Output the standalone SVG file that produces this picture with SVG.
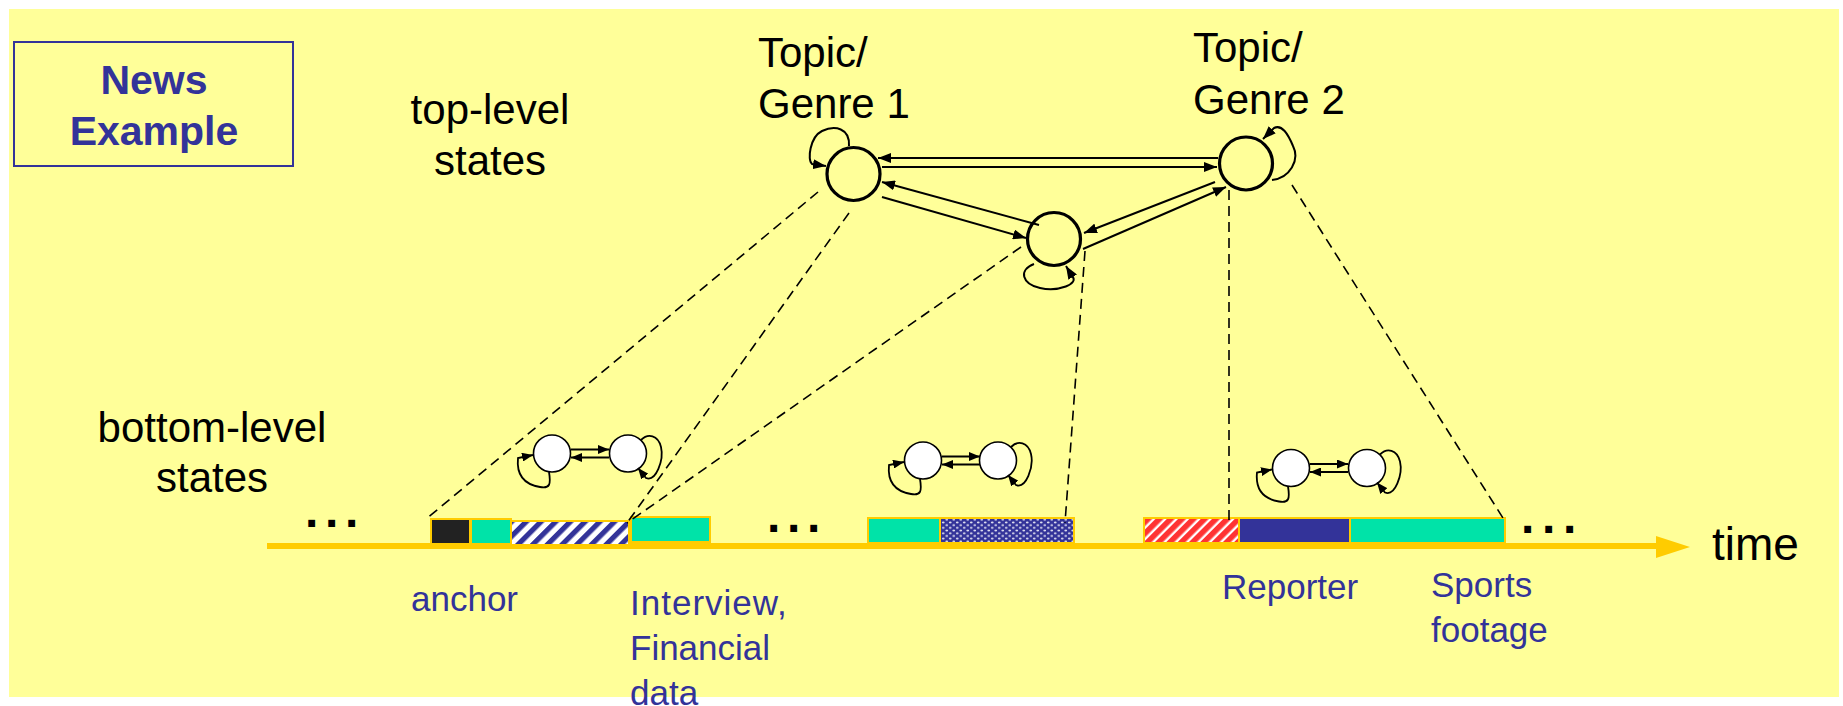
<svg xmlns="http://www.w3.org/2000/svg" width="1843" height="706" viewBox="0 0 1843 706">
  <style>
    .lbl { font-family: "Liberation Sans", Arial, sans-serif; font-size: 42px; fill: #000; }
    .seg-lbl { font-family: "Liberation Sans", Arial, sans-serif; font-size: 35px; fill: #333399; }
    .title { font-family: "Liberation Sans", Arial, sans-serif; font-size: 41px; font-weight: bold; fill: #333399; }
    .dots { font-family: "Liberation Sans", Arial, sans-serif; font-size: 48px; font-weight: bold; fill: #000; }
    .big { fill: none; stroke: #000; stroke-width: 3.2; }
    .small { fill: #fff; stroke: #000; stroke-width: 1.6; }
    .arr { fill: none; stroke: #000; stroke-width: 2; marker-end: url(#ah); }
    .arr-s { fill: none; stroke: #000; stroke-width: 1.8; marker-end: url(#ahs); }
    .dash { fill: none; stroke: #000; stroke-width: 1.6; stroke-dasharray: 10 6; }
    .seg { stroke: #FFCC00; stroke-width: 2; }
    .green { fill: #00E3A8; }
  </style>
  <defs>
    <marker id="ah" markerUnits="userSpaceOnUse" markerWidth="13" markerHeight="10" refX="13" refY="5" orient="auto">
      <path d="M0,0 L13,5 L0,10 z" fill="#000"/>
    </marker>
    <marker id="ahs" markerUnits="userSpaceOnUse" markerWidth="11" markerHeight="9" refX="11" refY="4.5" orient="auto">
      <path d="M0,0 L11,4.5 L0,9 z" fill="#000"/>
    </marker>
    <pattern id="navyStripes" patternUnits="userSpaceOnUse" width="10.4" height="10.4" patternTransform="rotate(45)">
      <rect width="10.4" height="10.4" fill="#fff"/>
      <rect width="5.2" height="10.4" fill="#333399"/>
    </pattern>
    <pattern id="redStripes" patternUnits="userSpaceOnUse" width="8" height="8" patternTransform="rotate(45)">
      <rect width="8" height="8" fill="#fff"/>
      <rect width="5.6" height="8" fill="#FF3333"/>
    </pattern>
    <pattern id="navyDots" patternUnits="userSpaceOnUse" width="7" height="5.4">
      <rect width="7" height="5.4" fill="#333399"/>
      <ellipse cx="1.75" cy="1.35" rx="1.4" ry="0.9" fill="#fff" opacity="0.85"/>
      <ellipse cx="5.25" cy="4.05" rx="1.4" ry="0.9" fill="#fff" opacity="0.85"/>
    </pattern>
  </defs>

  <!-- page background -->
  <rect x="9" y="9" width="1830" height="688" fill="#FFFF99"/>

  <!-- title box -->
  <g id="title-box">
    <rect x="14" y="42" width="279" height="124" fill="none" stroke="#333399" stroke-width="2"/>
    <text class="title" x="154" y="94" text-anchor="middle">News</text>
    <text class="title" x="154" y="145" text-anchor="middle">Example</text>
  </g>

  <!-- level captions -->
  <g id="caption-top">
    <text class="lbl" x="490" y="124" text-anchor="middle">top-level</text>
    <text class="lbl" x="490" y="175" text-anchor="middle">states</text>
  </g>
  <g id="caption-bottom">
    <text class="lbl" x="212" y="442" text-anchor="middle">bottom-level</text>
    <text class="lbl" x="212" y="492" text-anchor="middle">states</text>
  </g>

  <!-- time axis -->
  <g id="time-axis">
    <line x1="267" y1="546" x2="1662" y2="546" stroke="#FFCC00" stroke-width="6"/>
    <polygon points="1656,536 1690,547 1656,558" fill="#FFCC00"/>
    <text class="lbl" x="1712" y="560" style="font-size:46px">time</text>
    <text class="dots" x="305" y="527" letter-spacing="6.7">...</text>
    <text class="dots" x="767" y="532" letter-spacing="6.7">...</text>
    <text class="dots" x="1521" y="533" letter-spacing="7.7">...</text>
  </g>

  <!-- video segments on the time axis -->
  <g id="segments">
    <rect class="seg" x="431" y="519" width="39" height="25" fill="#222"/>
    <rect class="seg green" x="471" y="519" width="40" height="25"/>
    <rect class="seg" x="511" y="521" width="118" height="24" fill="url(#navyStripes)"/>
    <rect class="seg green" x="631" y="517" width="79" height="25"/>
    <rect class="seg green" x="868" y="518" width="72" height="25"/>
    <rect class="seg" x="940" y="518" width="134" height="25" fill="url(#navyDots)"/>
    <rect class="seg" x="1144" y="518" width="95" height="25" fill="url(#redStripes)"/>
    <rect class="seg" x="1239" y="518" width="111" height="25" fill="#333399"/>
    <rect class="seg green" x="1350" y="518" width="155" height="25"/>
  </g>

  <!-- segment labels -->
  <g id="segment-labels">
    <text class="seg-lbl" x="411" y="611">anchor</text>
    <text class="seg-lbl" x="630" y="615" letter-spacing="1">Interview,</text>
    <text class="seg-lbl" x="630" y="660">Financial</text>
    <text class="seg-lbl" x="630" y="705">data</text>
    <text class="seg-lbl" x="1222" y="599">Reporter</text>
    <text class="seg-lbl" x="1431" y="597">Sports</text>
    <text class="seg-lbl" x="1431" y="642">footage</text>
  </g>

  <!-- top-level states -->
  <g id="topic1">
    <circle class="big" cx="853.5" cy="174" r="26.5"/>
    <text class="lbl" x="758" y="67">Topic/</text>
    <text class="lbl" x="758" y="118">Genre 1</text>
  </g>
  <g id="topic2">
    <circle class="big" cx="1246" cy="163.5" r="26.5"/>
    <text class="lbl" x="1193" y="62">Topic/</text>
    <text class="lbl" x="1193" y="114">Genre 2</text>
  </g>
  <g id="topic-mid">
    <circle class="big" cx="1054" cy="239" r="26.5"/>
  </g>

  <!-- bottom-level state pairs -->
  <g id="sub1">
    <circle class="small" cx="552" cy="453.5" r="18.5"/>
    <circle class="small" cx="628" cy="453.5" r="18.5"/>
  </g>
  <g id="sub2">
    <circle class="small" cx="923" cy="460.5" r="18.5"/>
    <circle class="small" cx="998" cy="460.5" r="18.5"/>
  </g>
  <g id="sub3">
    <circle class="small" cx="1291" cy="468" r="18.5"/>
    <circle class="small" cx="1367" cy="468" r="18.5"/>
  </g>

  <g id="connectors">
    <!-- transitions between top-level states -->
    <path class="arr" d="M1218,158 L878,158"/>
    <path class="arr" d="M882,167 L1217,167"/>
    <path class="arr" d="M1039,225 L882,182"/>
    <path class="arr" d="M882,197 L1026,238"/>
    <path class="arr" d="M1215,182 L1084,233"/>
    <path class="arr" d="M1083,249 L1226,187"/>
    <!-- top-level self transitions -->
    <path class="arr" d="M849,146 C850,128 835,125 822,131 C810,137 807,160 812,164 L826,166"/>
    <path class="arr" d="M1272,180 C1290,178 1300,160 1293,146 C1288,134 1282,124 1274,128 L1263,139"/>
    <path class="arr" d="M1034,264 C1018,270 1022,284 1040,288 C1058,292 1080,284 1072,276 L1066,266"/>

    <!-- state-to-segment mappings -->
    <path class="dash" d="M818,192 L425,520"/>
    <path class="dash" d="M849,213 L627,523"/>
    <path class="dash" d="M1021,247 L627,523"/>
    <path class="dash" d="M1085,251 L1065,523"/>
    <path class="dash" d="M1229,190 L1229,520"/>
    <path class="dash" d="M1292,185 L1503,518"/>

    <!-- bottom-level transitions, pair 1 -->
    <path class="arr-s" d="M571,449.5 L609,449.5"/>
    <path class="arr-s" d="M609,457.5 L571,457.5"/>
    <path class="arr-s" d="M549,472 C551,484 550,489 540,487 C528,485 516,478 518,458 L533,455"/>
    <path class="arr-s" d="M641,440 C648,433 658,435 661,447 C664,460 656,482 646,478 L638,468"/>
    <!-- pair 2 -->
    <path class="arr-s" d="M942,456.5 L980,456.5"/>
    <path class="arr-s" d="M980,464.5 L942,464.5"/>
    <path class="arr-s" d="M920,479 C922,491 921,496 911,494 C899,492 887,485 889,465 L904,462"/>
    <path class="arr-s" d="M1011,447 C1018,440 1028,442 1031,454 C1034,467 1026,489 1016,485 L1008,475"/>
    <!-- pair 3 -->
    <path class="arr-s" d="M1310,464 L1348,464"/>
    <path class="arr-s" d="M1348,472 L1310,472"/>
    <path class="arr-s" d="M1288,486.5 C1290,498.5 1289,503.5 1279,501.5 C1267,499.5 1255,492.5 1257,472.5 L1272,469.5"/>
    <path class="arr-s" d="M1380,454.5 C1387,447.5 1397,449.5 1400,461.5 C1403,474.5 1395,496.5 1385,492.5 L1377,482.5"/>
  </g>
</svg>
